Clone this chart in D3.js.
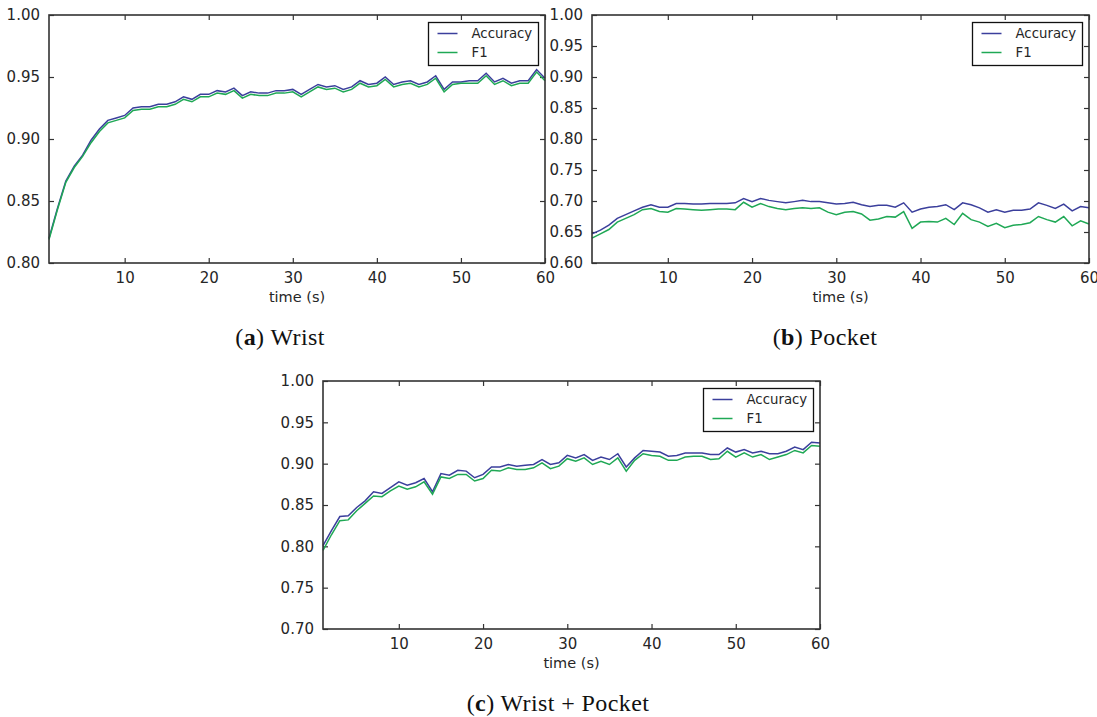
<!DOCTYPE html>
<html>
<head>
<meta charset="utf-8">
<script src="https://cdn.jsdelivr.net/npm/d3@7"></script>
<style>
  body { margin: 0; background: #fff; }
  svg { display: block; }
  .tick text { font-family: "DejaVu Sans", sans-serif; font-size: 15px; fill: #262626; }
</style>
</head>
<body>
<svg id="chart" width="1097" height="717"></svg>
<script>
// time in seconds, 1..60
const seconds = d3.range(1, 61);
const seriesNames = ["Accuracy", "F1"];
const xTicks = [10, 20, 30, 40, 50, 60];

// (a) Wrist
const wristAccuracy = [
  0.820, 0.844, 0.866, 0.878, 0.887, 0.899, 0.908, 0.915, 0.917, 0.919,
  0.925, 0.926, 0.926, 0.928, 0.928, 0.930, 0.934, 0.932, 0.936, 0.936,
  0.939, 0.938, 0.941, 0.935, 0.938, 0.937, 0.937, 0.939, 0.939, 0.940,
  0.936, 0.940, 0.944, 0.942, 0.943, 0.940, 0.942, 0.947, 0.944, 0.945,
  0.950, 0.944, 0.946, 0.947, 0.944, 0.946, 0.951, 0.940, 0.946, 0.946,
  0.947, 0.947, 0.953, 0.946, 0.949, 0.945, 0.947, 0.947, 0.956, 0.949
];
const wristF1 = [
  0.819, 0.843, 0.865, 0.877, 0.886, 0.897, 0.906, 0.913, 0.915, 0.917,
  0.923, 0.924, 0.924, 0.926, 0.926, 0.928, 0.932, 0.930, 0.934, 0.934,
  0.937, 0.936, 0.939, 0.933, 0.936, 0.935, 0.935, 0.937, 0.937, 0.938,
  0.934, 0.938, 0.942, 0.940, 0.941, 0.938, 0.940, 0.945, 0.942, 0.943,
  0.948, 0.942, 0.944, 0.945, 0.942, 0.944, 0.949, 0.938, 0.944, 0.945,
  0.945, 0.945, 0.951, 0.944, 0.947, 0.943, 0.945, 0.945, 0.954, 0.947
];

// (b) Pocket
const pocketAccuracy = [
  0.647, 0.653, 0.661, 0.672, 0.678, 0.684, 0.690, 0.694, 0.690, 0.690,
  0.696, 0.696, 0.695, 0.695, 0.696, 0.696, 0.696, 0.697, 0.704, 0.699,
  0.704, 0.701, 0.699, 0.697, 0.699, 0.701, 0.699, 0.699, 0.697, 0.695,
  0.696, 0.698, 0.694, 0.691, 0.693, 0.693, 0.690, 0.697, 0.682, 0.687,
  0.690, 0.691, 0.694, 0.686, 0.697, 0.694, 0.689, 0.682, 0.686, 0.682,
  0.685, 0.685, 0.687, 0.697, 0.693, 0.688, 0.695, 0.684, 0.691, 0.689
];
const pocketF1 = [
  0.640, 0.647, 0.654, 0.666, 0.672, 0.678, 0.686, 0.688, 0.683, 0.682,
  0.688, 0.687, 0.686, 0.685, 0.686, 0.687, 0.687, 0.686, 0.698, 0.690,
  0.696, 0.691, 0.688, 0.686, 0.688, 0.689, 0.688, 0.689, 0.682, 0.678,
  0.682, 0.683, 0.679, 0.669, 0.671, 0.675, 0.674, 0.683, 0.656, 0.666,
  0.667, 0.666, 0.672, 0.662, 0.680, 0.670, 0.666, 0.659, 0.664, 0.657,
  0.661, 0.662, 0.665, 0.675, 0.670, 0.666, 0.675, 0.660, 0.668, 0.663
];

// (c) Wrist + Pocket
const bothAccuracy = [
  0.801, 0.819, 0.836, 0.837, 0.847, 0.855, 0.866, 0.864, 0.871, 0.878,
  0.874, 0.877, 0.882, 0.866, 0.888, 0.886, 0.892, 0.891, 0.883, 0.887,
  0.896, 0.896, 0.899, 0.897, 0.898, 0.899, 0.905, 0.899, 0.901, 0.910,
  0.907, 0.911, 0.904, 0.908, 0.905, 0.912, 0.896, 0.907, 0.916, 0.915,
  0.914, 0.909, 0.910, 0.913, 0.913, 0.913, 0.911, 0.911, 0.919, 0.914,
  0.917, 0.913, 0.915, 0.912, 0.912, 0.915, 0.920, 0.917, 0.926, 0.925
];
const bothF1 = [
  0.795, 0.814, 0.831, 0.832, 0.843, 0.852, 0.861, 0.860, 0.867, 0.873,
  0.869, 0.872, 0.878, 0.863, 0.884, 0.882, 0.887, 0.887, 0.879, 0.882,
  0.892, 0.891, 0.895, 0.893, 0.893, 0.895, 0.901, 0.894, 0.897, 0.906,
  0.903, 0.907, 0.899, 0.903, 0.899, 0.907, 0.891, 0.904, 0.912, 0.910,
  0.909, 0.904, 0.904, 0.908, 0.909, 0.909, 0.905, 0.906, 0.915, 0.908,
  0.913, 0.908, 0.911, 0.905, 0.908, 0.911, 0.916, 0.913, 0.922, 0.921
];

const colors = ["#3b3f9c", "#1fa855"];
const svg = d3.select("#chart");

function drawPanel(p) {
  const x = d3.scaleLinear().domain([1, 60]).range([p.left, p.left + p.width]);
  const y = d3.scaleLinear().domain(p.yDomain).range([p.top + p.height, p.top]);
  const yTicks = d3.range(p.yDomain[0], p.yDomain[1] + 0.001, 0.05);
  const g = svg.append("g");

  const bottom = g.append("g").attr("transform", `translate(0,${p.top + p.height})`)
    .call(d3.axisBottom(x).tickValues(xTicks).tickSizeInner(-5).tickSizeOuter(0).tickPadding(9));
  const top = g.append("g").attr("transform", `translate(0,${p.top})`)
    .call(d3.axisTop(x).tickValues(xTicks).tickSizeInner(-5).tickSizeOuter(0).tickFormat(""));
  const left = g.append("g").attr("transform", `translate(${p.left},0)`)
    .call(d3.axisLeft(y).tickValues(yTicks).tickSizeInner(-5).tickSizeOuter(0).tickPadding(9)
      .tickFormat(d3.format(".2f")));
  const right = g.append("g").attr("transform", `translate(${p.left + p.width},0)`)
    .call(d3.axisRight(y).tickValues(yTicks).tickSizeInner(-5).tickSizeOuter(0).tickFormat(""));
  [bottom, top, left, right].forEach(a => {
    a.select(".domain").remove();
    a.selectAll(".tick line").attr("stroke", "#333").attr("stroke-width", 1.2);
  });

  const line = d3.line().x((d, i) => x(seconds[i])).y(d => y(d));
  [p.acc, p.f1].forEach((vals, k) => {
    g.append("path").datum(vals)
      .attr("fill", "none")
      .attr("stroke", colors[k])
      .attr("stroke-width", 1.5)
      .attr("d", line);
  });

  g.append("rect")
    .attr("x", p.left).attr("y", p.top)
    .attr("width", p.width).attr("height", p.height)
    .attr("fill", "none").attr("stroke", "#333").attr("stroke-width", 1.6);

  // legend
  const lw = 110, lh = 43;
  const lx = p.left + p.width - 6.5 - lw, ly = p.top + 7.5;
  const lg = g.append("g").attr("transform", `translate(${lx},${ly})`);
  lg.append("rect").attr("width", lw).attr("height", lh)
    .attr("fill", "#fff").attr("stroke", "#111").attr("stroke-width", 1.3);
  seriesNames.forEach((name, k) => {
    const ry = 11 + k * 19;
    lg.append("line").attr("x1", 9).attr("x2", 29).attr("y1", ry).attr("y2", ry)
      .attr("stroke", colors[k]).attr("stroke-width", 1.5);
    lg.append("text").attr("x", 43).attr("y", ry + 4.5)
      .attr("font-family", "DejaVu Sans, sans-serif").attr("font-size", 13.3).attr("fill", "#262626")
      .text(name);
  });

  // x label
  g.append("text")
    .attr("x", p.left + p.width / 2).attr("y", p.top + p.height + 39)
    .attr("text-anchor", "middle")
    .attr("font-family", "DejaVu Sans, sans-serif").attr("font-size", 14.5).attr("fill", "#262626")
    .text("time (s)");

  // caption
  const cap = g.append("text")
    .attr("x", p.capX).attr("y", p.capY)
    .attr("text-anchor", "middle")
    .attr("font-family", "Liberation Serif, serif").attr("font-size", 24)
    .attr("letter-spacing", 0.4).attr("fill", "#111");
  cap.append("tspan").text("(");
  cap.append("tspan").attr("font-weight", "bold").text(p.letter);
  cap.append("tspan").text(") " + p.caption);
}

drawPanel({ left: 49, top: 15, width: 496, height: 248, yDomain: [0.8, 1.0],
  acc: wristAccuracy, f1: wristF1, letter: "a", caption: "Wrist", capX: 280, capY: 345 });
drawPanel({ left: 592, top: 15, width: 497, height: 248, yDomain: [0.6, 1.0],
  acc: pocketAccuracy, f1: pocketF1, letter: "b", caption: "Pocket", capX: 825, capY: 345 });
drawPanel({ left: 323, top: 381, width: 497, height: 248, yDomain: [0.7, 1.0],
  acc: bothAccuracy, f1: bothF1, letter: "c", caption: "Wrist + Pocket", capX: 558, capY: 711 });
</script>
</body>
</html>
